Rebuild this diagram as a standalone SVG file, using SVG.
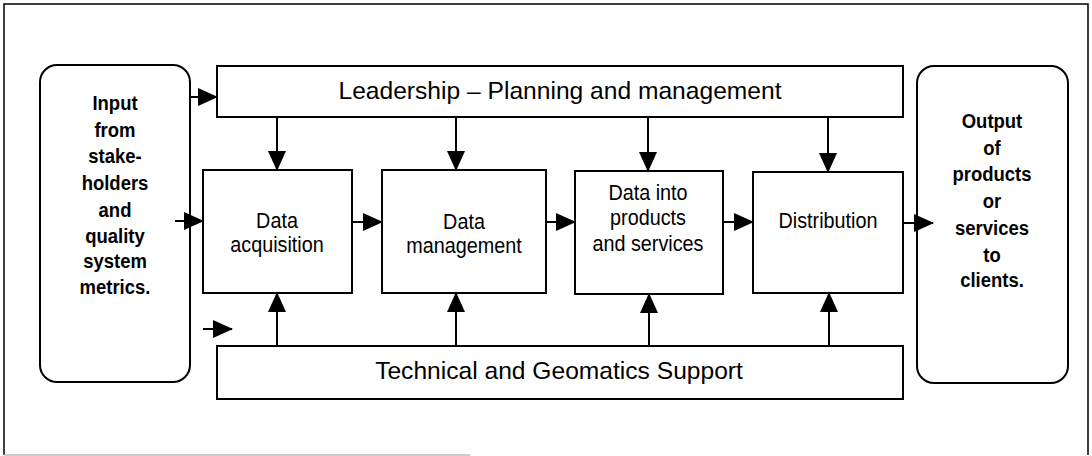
<svg xmlns="http://www.w3.org/2000/svg" width="1092" height="456" viewBox="0 0 1092 456">
<defs>
<marker id="ah" markerUnits="userSpaceOnUse" markerWidth="20" markerHeight="18" refX="19" refY="9" orient="auto">
<path d="M0,0 L20,9 L0,18 z" fill="#000"/>
</marker>
<style>
.box{fill:#fff;stroke:#000;stroke-width:2}
.t{font-family:"Liberation Sans",Arial,sans-serif;fill:#000;text-anchor:middle}
.big{font-size:24.6px}
.mid{font-size:22px}
.bold{font-size:21px;font-weight:bold}
.c{stroke:#000;stroke-width:2;fill:none;marker-end:url(#ah)}
</style>
</defs>
<rect width="1092" height="456" fill="#fff"/>
<g id="frame" stroke="#000" fill="none">
<path d="M4,455 L4,4 L1088,4 L1088,455" stroke-width="1.5"/>
<path d="M4,455 L470,455" stroke="#bbb" stroke-width="1.5"/>
</g>
<g id="input">
<rect class="box" x="40" y="65" width="150" height="317" rx="17"/>
<g transform="translate(115 0) scale(0.88 1)">
<text class="t bold"><tspan x="0" y="110">Input</tspan><tspan x="0" y="137">from</tspan><tspan x="0" y="163">stake-</tspan><tspan x="0" y="190">holders</tspan><tspan x="0" y="217">and</tspan><tspan x="0" y="243">quality</tspan><tspan x="0" y="268">system</tspan><tspan x="0" y="294">metrics.</tspan></text>
</g>
</g>
<g id="output">
<rect class="box" x="917" y="66" width="151" height="317" rx="17"/>
<g transform="translate(992 0) scale(0.88 1)">
<text class="t bold"><tspan x="0" y="128">Output</tspan><tspan x="0" y="155">of</tspan><tspan x="0" y="181">products</tspan><tspan x="0" y="208">or</tspan><tspan x="0" y="235">services</tspan><tspan x="0" y="262">to</tspan><tspan x="0" y="287">clients.</tspan></text>
</g>
</g>
<g id="leadership">
<rect class="box" x="217" y="66" width="686" height="51"/>
<text class="t big" x="560" y="99">Leadership – Planning and management</text>
</g>
<g id="support">
<rect class="box" x="217" y="346" width="686" height="53"/>
<text class="t big" x="559" y="379">Technical and Geomatics Support</text>
</g>
<g id="acquisition">
<rect class="box" x="203" y="170" width="149" height="123"/>
<g transform="translate(277 0) scale(0.9 1)">
<text class="t mid"><tspan x="0" y="228">Data</tspan><tspan x="0" y="252">acquisition</tspan></text>
</g>
</g>
<g id="management">
<rect class="box" x="382" y="170" width="164" height="123"/>
<g transform="translate(464 0) scale(0.9 1)">
<text class="t mid"><tspan x="0" y="229">Data</tspan><tspan x="0" y="253">management</tspan></text>
</g>
</g>
<g id="products">
<rect class="box" x="575" y="171" width="148" height="123"/>
<g transform="translate(648 0) scale(0.9 1)">
<text class="t mid"><tspan x="0" y="200">Data into</tspan><tspan x="0" y="225">products</tspan><tspan x="0" y="251">and services</tspan></text>
</g>
</g>
<g id="distribution">
<rect class="box" x="753" y="172" width="150" height="121"/>
<g transform="translate(828 0) scale(0.9 1)">
<text class="t mid" x="0" y="228">Distribution</text>
</g>
</g>
<g id="connectors">
<line class="c" x1="190" y1="97" x2="217" y2="97"/>
<line class="c" x1="175" y1="221" x2="203" y2="221"/>
<line class="c" x1="203" y1="329" x2="232" y2="329"/>
<line class="c" x1="352" y1="222" x2="382" y2="222"/>
<line class="c" x1="546" y1="222" x2="575" y2="222"/>
<line class="c" x1="723" y1="222" x2="753" y2="222"/>
<line class="c" x1="903" y1="223" x2="933" y2="223"/>
<line class="c" x1="277" y1="117" x2="277" y2="170"/>
<line class="c" x1="456" y1="117" x2="456" y2="170"/>
<line class="c" x1="648" y1="117" x2="648" y2="171"/>
<line class="c" x1="828" y1="117" x2="828" y2="172"/>
<line class="c" x1="277" y1="346" x2="277" y2="293"/>
<line class="c" x1="456" y1="346" x2="456" y2="293"/>
<line class="c" x1="649" y1="346" x2="649" y2="294"/>
<line class="c" x1="829" y1="346" x2="829" y2="293"/>
</g>
</svg>
